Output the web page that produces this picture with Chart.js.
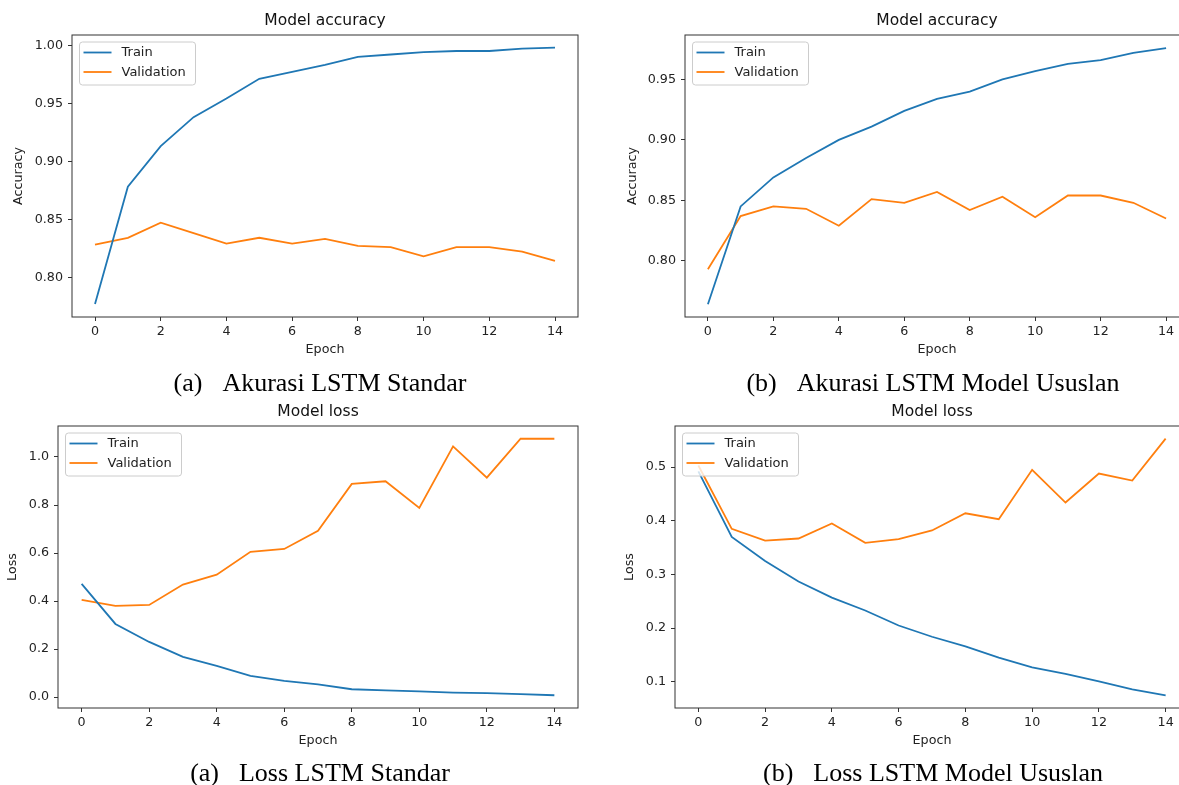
<!DOCTYPE html>
<html>
<head>
<meta charset="utf-8">
<script src="https://cdn.jsdelivr.net/npm/chart.js@4"></script>
<style>
  html, body { margin: 0; padding: 0; background: #fff; }
  body { width: 1179px; height: 785px; position: relative; overflow: hidden; }
  .panel { position: absolute; }
  .caption {
    position: absolute; transform: translate(-50%, -50%);
    font-family: "Liberation Serif", "Times New Roman", serif;
    font-size: 26px; color: #000; white-space: nowrap;
  }
  .caption span + span { margin-left: 20px; }
</style>
</head>
<body>
<div class="panel" style="left:0;top:0"><canvas id="accStd" width="590" height="365"></canvas></div>
<div class="panel" style="left:590px;top:0"><canvas id="accProp" width="610" height="365"></canvas></div>
<div class="panel" style="left:0;top:395px"><canvas id="lossStd" width="590" height="365"></canvas></div>
<div class="panel" style="left:590px;top:395px"><canvas id="lossProp" width="610" height="365"></canvas></div>

<div class="caption" style="left:320px;top:383px"><span>(a)</span><span>Akurasi LSTM Standar</span></div>
<div class="caption" style="left:933px;top:383px"><span>(b)</span><span>Akurasi LSTM Model Ususlan</span></div>
<div class="caption" style="left:320px;top:773px"><span>(a)</span><span>Loss LSTM Standar</span></div>
<div class="caption" style="left:933px;top:773px"><span>(b)</span><span>Loss LSTM Model Ususlan</span></div>

<script>
// epochs and tick labels
const epochs = [0, 1, 2, 3, 4, 5, 6, 7, 8, 9, 10, 11, 12, 13, 14];
const epochTicks = [0, 2, 4, 6, 8, 10, 12, 14];
const accStdTicks = [0.80, 0.85, 0.90, 0.95, 1.00];
const accPropTicks = [0.80, 0.85, 0.90, 0.95];
const lossStdTicks = [0.0, 0.2, 0.4, 0.6, 0.8, 1.0];
const lossPropTicks = [0.1, 0.2, 0.3, 0.4, 0.5];

// (a) standard LSTM accuracy
const accStdTrain = [0.777, 0.878, 0.913, 0.938, 0.954, 0.971, 0.977, 0.983, 0.990, 0.992, 0.994, 0.995, 0.995, 0.997, 0.998];
const accStdVal = [0.828, 0.834, 0.847, 0.838, 0.829, 0.834, 0.829, 0.833, 0.827, 0.826, 0.818, 0.826, 0.826, 0.822, 0.814];

// (b) proposed model accuracy
const accPropTrain = [0.764, 0.845, 0.869, 0.885, 0.900, 0.911, 0.924, 0.934, 0.940, 0.950, 0.957, 0.963, 0.966, 0.972, 0.976];
const accPropVal = [0.793, 0.837, 0.845, 0.843, 0.829, 0.851, 0.848, 0.857, 0.842, 0.853, 0.836, 0.854, 0.854, 0.848, 0.835];

// (a) standard LSTM loss
const lossStdTrain = [0.472, 0.305, 0.230, 0.168, 0.130, 0.089, 0.068, 0.053, 0.033, 0.028, 0.024, 0.019, 0.017, 0.013, 0.008];
const lossStdVal = [0.405, 0.380, 0.384, 0.469, 0.510, 0.605, 0.617, 0.693, 0.888, 0.899, 0.788, 1.044, 0.914, 1.076, 1.076];

// (b) proposed model loss
const lossPropTrain = [0.492, 0.370, 0.325, 0.287, 0.257, 0.233, 0.205, 0.184, 0.166, 0.145, 0.127, 0.115, 0.101, 0.086, 0.075];
const lossPropVal = [0.503, 0.385, 0.363, 0.367, 0.395, 0.359, 0.366, 0.382, 0.414, 0.403, 0.495, 0.434, 0.488, 0.475, 0.553];

const BLUE = "#1f77b4";
const ORANGE = "#ff7f0e";
const FONT = "DejaVu Sans";

// box around the axes, title and matplotlib-like legend inside the plot
const framePlugin = {
    id: "frame",
    afterDatasetsDraw(chart, args, opts) {
        const { ctx, chartArea: a } = chart;
        ctx.save();
        ctx.strokeStyle = "#333";
        ctx.lineWidth = 1;
        ctx.strokeRect(a.left, a.top, a.right - a.left, a.bottom - a.top);

        ctx.fillStyle = "#111";
        ctx.font = `15.5px "${FONT}"`;
        ctx.textAlign = "center";
        ctx.textBaseline = "middle";
        ctx.fillText(opts.title, (a.left + a.right) / 2, opts.titleY);

        const lx = a.left + 7, ly = a.top + 6.5, lw = 116, lh = 43;
        ctx.beginPath();
        ctx.roundRect(lx + 0.5, ly + 0.5, lw, lh, 3);
        ctx.fillStyle = "rgba(255,255,255,0.8)";
        ctx.fill();
        ctx.strokeStyle = "#cccccc";
        ctx.stroke();

        ctx.font = `13px "${FONT}"`;
        ctx.textAlign = "left";
        chart.data.datasets.forEach((ds, i) => {
            const y = ly + 11 + i * 19.5;
            ctx.strokeStyle = ds.borderColor;
            ctx.lineWidth = 1.8;
            ctx.beginPath();
            ctx.moveTo(lx + 4.5, y);
            ctx.lineTo(lx + 32.5, y);
            ctx.stroke();
            ctx.fillStyle = "#222";
            ctx.fillText(ds.label, lx + 42.5, y + 0.5);
        });
        ctx.restore();
    },
};

function points(values) {
    return epochs.map((e, i) => ({ x: e, y: values[i] }));
}

function makeChart(id, cfg) {
    const tickFont = { family: FONT, size: 12.7 };
    const titleFont = { family: FONT, size: 12.7, lineHeight: 1.2 };
    return new Chart(document.getElementById(id), {
        type: "line",
        data: {
            datasets: [
                { label: "Train", data: points(cfg.train), borderColor: BLUE },
                { label: "Validation", data: points(cfg.val), borderColor: ORANGE },
            ],
        },
        options: {
            responsive: false,
            animation: false,
            devicePixelRatio: 1,
            layout: { padding: { left: 0, top: cfg.top, right: cfg.right, bottom: 0 } },
            elements: {
                line: { borderWidth: 1.8, tension: 0, fill: false },
                point: { radius: 0 },
            },
            scales: {
                x: {
                    type: "linear",
                    min: -0.7,
                    max: 14.7,
                    afterBuildTicks: (s) => { s.ticks = epochTicks.map((v) => ({ value: v })); },
                    afterFit: (s) => { s.height = cfg.xHeight; },
                    grid: { drawOnChartArea: false, drawTicks: true, tickLength: 4, color: "#333" },
                    border: { display: false },
                    ticks: { font: tickFont, color: "#222", padding: 3, maxRotation: 0, autoSkip: false },
                    title: { display: true, text: "Epoch", font: titleFont, color: "#222", padding: { top: 0, bottom: cfg.xTitlePad } },
                },
                y: {
                    type: "linear",
                    min: cfg.yMin,
                    max: cfg.yMax,
                    afterBuildTicks: (s) => { s.ticks = cfg.yTicks.map((v) => ({ value: v })); },
                    afterFit: (s) => { s.width = cfg.yWidth; },
                    grid: { drawOnChartArea: false, drawTicks: true, tickLength: 4, color: "#333" },
                    border: { display: false },
                    ticks: {
                        font: tickFont, color: "#222", padding: 5, autoSkip: false,
                        callback: (v) => Number(v).toFixed(cfg.digits),
                    },
                    title: { display: true, text: cfg.yLabel, font: titleFont, color: "#222", padding: { top: cfg.yTitlePad, bottom: 0 } },
                },
            },
            plugins: {
                legend: { display: false },
                tooltip: { enabled: false },
                frame: { title: cfg.title, titleY: cfg.titleY },
            },
        },
        plugins: [framePlugin],
    });
}

makeChart("accStd", {
    train: accStdTrain, val: accStdVal, yTicks: accStdTicks, digits: 2,
    yMin: 0.7657, yMax: 1.0088, yLabel: "Accuracy", title: "Model accuracy",
    top: 35, right: 12, yWidth: 72, xHeight: 48, titleY: 21, xTitlePad: 8, yTitlePad: 11,
});
makeChart("accProp", {
    train: accPropTrain, val: accPropVal, yTicks: accPropTicks, digits: 2,
    yMin: 0.7535, yMax: 0.9868, yLabel: "Accuracy", title: "Model accuracy",
    top: 35, right: 11, yWidth: 95, xHeight: 48, titleY: 21, xTitlePad: 8, yTitlePad: 35,
});
makeChart("lossStd", {
    train: lossStdTrain, val: lossStdVal, yTicks: lossStdTicks, digits: 1,
    yMin: -0.045, yMax: 1.129, yLabel: "Loss", title: "Model loss",
    top: 31, right: 12, yWidth: 58, xHeight: 52, titleY: 17, xTitlePad: 11.5, yTitlePad: 5.5,
});
makeChart("lossProp", {
    train: lossPropTrain, val: lossPropVal, yTicks: lossPropTicks, digits: 1,
    yMin: 0.0513, yMax: 0.5766, yLabel: "Loss", title: "Model loss",
    top: 31, right: 11, yWidth: 85, xHeight: 52, titleY: 17, xTitlePad: 11.5, yTitlePad: 32,
});
</script>
</body>
</html>
